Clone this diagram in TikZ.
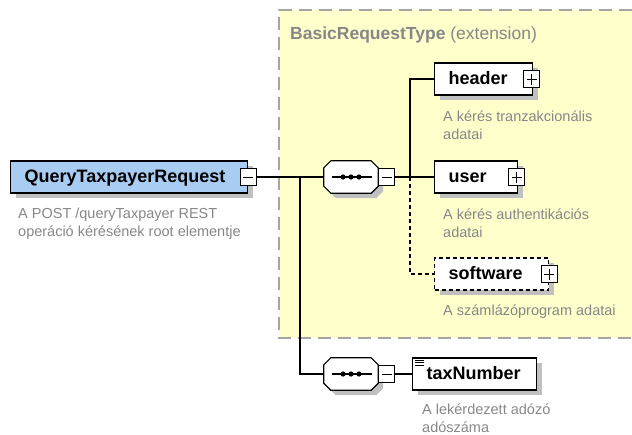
\documentclass[tikz,border=0pt]{standalone}
\usepackage{fontspec}
\setmainfont{Liberation Sans}
\definecolor{extfill}{RGB}{255,255,204}
\definecolor{extline}{RGB}{165,165,165}
\definecolor{descgray}{RGB}{135,135,135}
\definecolor{rootfill}{RGB}{168,204,242}
\definecolor{shadowgray}{RGB}{192,192,192}
\tikzset{
  wire/.style={line width=1.2pt},
  optwire/.style={line width=1.2pt, dash pattern=on 4pt off 3pt},
  boxshadow/.style={preaction={draw=none, fill=shadowgray, transform canvas={xshift=5pt, yshift=-5pt}}},
  elem/.style={draw, line width=1.2pt, fill=white, boxshadow, anchor=west,
    font=\fontsize{18}{20}\selectfont\bfseries, text height=13pt, text depth=3pt,
    minimum height=32pt, inner xsep=14pt, inner ysep=0pt, align=left},
  optelem/.style={elem, dash pattern=on 4pt off 3pt},
  seqbox/.style={minimum width=54pt, minimum height=32pt, inner sep=0pt},
  signbox/.style={draw, line width=1pt, fill=white, minimum width=16pt, minimum height=17pt, inner sep=0pt},
  minusbox/.style={signbox, path picture={
      \draw[line width=1pt] ([xshift=3pt]path picture bounding box.west) -- ([xshift=-3pt]path picture bounding box.east);}},
  plusbox/.style={signbox, path picture={
      \draw[line width=1pt] ([xshift=3pt]path picture bounding box.west) -- ([xshift=-3pt]path picture bounding box.east);
      \draw[line width=1pt] ([yshift=-3pt]path picture bounding box.north) -- ([yshift=3pt]path picture bounding box.south);}},
  desc/.style={font=\fontsize{14.5}{18}\selectfont, text=descgray, align=left, inner sep=0pt, anchor=base west},
  exttitle/.style={font=\fontsize{17.5}{20}\selectfont, text=descgray, inner sep=0pt, anchor=base west}
}
\begin{document}
\begin{tikzpicture}[x=1pt,y=-1pt]
\useasboundingbox (0,0) rectangle (632,434);
%rows and columns, in pixels from the top left
\pgfmathsetmacro{\rowA}{79}    %header
\pgfmathsetmacro{\rowB}{177}   %root, sequence, user
\pgfmathsetmacro{\rowC}{274}   %software
\pgfmathsetmacro{\rowD}{374}   %second sequence, taxNumber
\pgfmathsetmacro{\colE}{434}   %left edge of the extension elements
\pgfmathsetmacro{\seqX}{351}   %centre of the sequence boxes
\pgfmathsetmacro{\cut}{7}      %corner cut of the sequence boxes
\pgfmathsetmacro{\gap}{42}     %box centre to first description baseline
\pgfmathsetmacro{\lead}{18}    %description line step
%----------------------
%extension frame
\fill[extfill] (279,10) rectangle (632,338);
\draw[extline, line width=1.6pt, dash pattern=on 13pt off 7pt] (632,10) -- (279,10) -- (279,338) -- (632,338);
\node[exttitle] (ext) at (290,39) {\textbf{BasicRequestType} (extension)};
%========================
%root element
\node[elem, fill=rootfill, text width=209pt] (root) at (10,\rowB) {QueryTaxpayerRequest};
\node[minusbox] (rootminus) at (root.east) {};
%last line baseline
\node[desc] (rootdesc) at (18,\rowB+\gap-1+\lead) {A POST /queryTaxpayer REST\\operáció kérésének root elementje};
%--------------------
%sequence boxes, octagons drawn round them
\node[seqbox] (seqA) at (\seqX,\rowB) {};
\node[seqbox] (seqB) at (\seqX,\rowD) {};
\foreach \s in {seqA,seqB}{
\path[draw, fill=white, line width=1.2pt, boxshadow]
  ([xshift=\cut pt]\s.north west) -- ([xshift=-\cut pt]\s.north east)
  -- ([yshift=-\cut pt]\s.north east) -- ([yshift=\cut pt]\s.south east)
  -- ([xshift=-\cut pt]\s.south east) -- ([xshift=\cut pt]\s.south west)
  -- ([yshift=\cut pt]\s.south west) -- ([yshift=-\cut pt]\s.north west) -- cycle;
\draw[line width=1.1pt] ([xshift=-19pt]\s.center) -- ([xshift=21pt]\s.center);
\foreach \d in {-8,0,8}
  \fill ([xshift=\d pt]\s.center) circle (2.6);
}
\node[minusbox, anchor=west] (seqAminus) at (seqA.east) {};
\node[minusbox, anchor=west] (seqBminus) at (seqB.east) {};
\coordinate (forkA) at (300,\rowB);
\coordinate (forkB) at (410,\rowB);
%--------------------
%extension elements. top to bottom
\node[elem, text width=70pt] (header) at (\colE,\rowA) {header};
\node[plusbox] (headerplus) at ([xshift=-1.5pt]header.east) {};
\node[desc] (headerdesc) at (443,\rowA+\gap+\lead) {A kérés tranzakcionális\\adatai};
%
\node[elem, text width=55pt] (user) at (\colE,\rowB) {user};
\node[plusbox] (userplus) at ([xshift=-1.5pt]user.east) {};
\node[desc] (userdesc) at (443,\rowB+\gap+\lead) {A kérés authentikációs\\adatai};
%
\node[optelem, text width=86pt] (software) at (\colE,\rowC) {software};
\node[plusbox] (softwareplus) at (software.east) {};
\node[desc] (softwaredesc) at (443,\rowC+\gap-1) {A számlázóprogram adatai};
%--------------------
%taxNumber
\node[elem, text width=96pt] (taxNumber) at (412,\rowD) {taxNumber};
\foreach \dy in {3,5.5,8}{
\draw[line width=0.9pt, shift={(taxNumber.north west)}] (3,\dy) -- (12,\dy);
}
\node[desc] (taxNumberdesc) at (422,\rowD+\gap-1+\lead-1) {A lekérdezett adózó\\adószáma};
%==========================
%connectors
\draw[wire] (rootminus.east) -- (seqA.west);
\draw[wire] (forkA) |- (seqB.west);
\draw[wire] (seqAminus.east) -- (user.west);
\draw[wire] (header.west) -| (forkB);
\draw[optwire] (forkB) |- (software.west);
\draw[wire] (seqBminus.east) -- (taxNumber.west);
\end{tikzpicture}
\end{document}
